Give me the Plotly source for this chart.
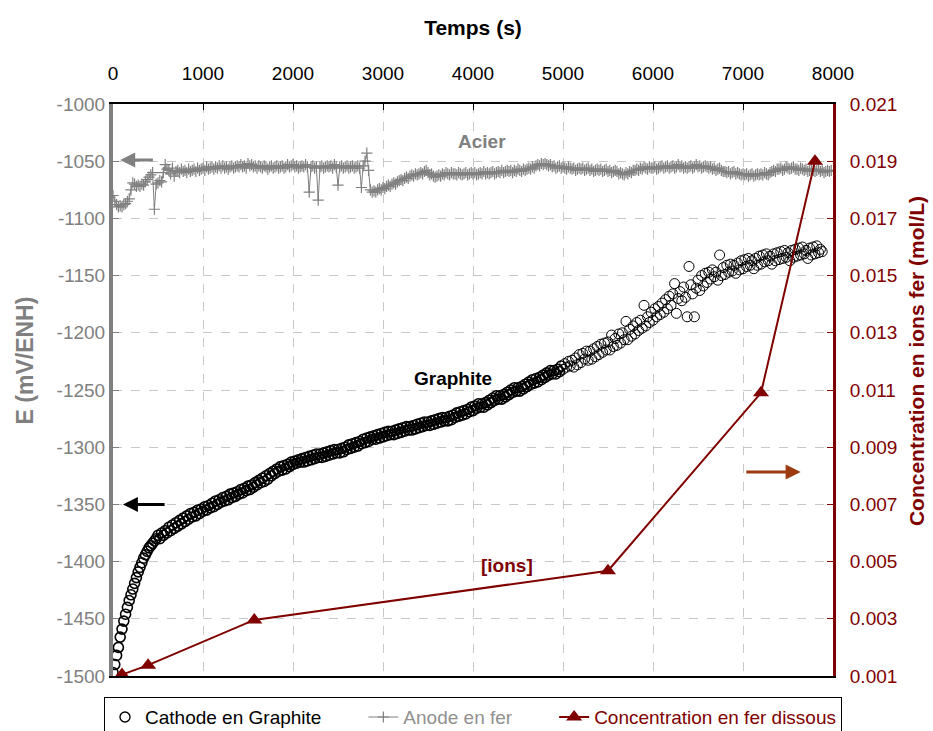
import plotly.graph_objects as go

# Cathode en graphite: potentiel (mV/ENH), une mesure toutes les 20 s
t_graphite = list(range(0, 7900, 20))
e_graphite = [
    -1497, -1490, -1482, -1475, -1466, -1459, -1452, -1446, -1440, -1434,
    -1429, -1424, -1419, -1414, -1409, -1405, -1401, -1397, -1394, -1391,
    -1388, -1386, -1384, -1382, -1380,
    -1377, -1380, -1375, -1377, -1373, -1375, -1370, -1373, -1368, -1371,
    -1366, -1369, -1364, -1367, -1362, -1365, -1360, -1363, -1358, -1361,
    -1357, -1360, -1355, -1358, -1354, -1356, -1352, -1355, -1351, -1353,
    -1349, -1352, -1347, -1350, -1346, -1348, -1344, -1347, -1343, -1346,
    -1341, -1344, -1340, -1343, -1339, -1341, -1337, -1340, -1336, -1338,
    -1334, -1337, -1333, -1335, -1331, -1333, -1329, -1331, -1327, -1330,
    -1325, -1328, -1323, -1325, -1321, -1323, -1319, -1321, -1317, -1320,
    -1316, -1319, -1315, -1317, -1313, -1315, -1312, -1314, -1311, -1313,
    -1310, -1313, -1309, -1312, -1308, -1311, -1307, -1310, -1306, -1309,
    -1306, -1309, -1305, -1308, -1304, -1307, -1303, -1306, -1302, -1305,
    -1302, -1305, -1301, -1304, -1300, -1302, -1298, -1301, -1297, -1300,
    -1296, -1299, -1295, -1297, -1293, -1296, -1292, -1295, -1291, -1293,
    -1290, -1293, -1289, -1292, -1288, -1291, -1287, -1290, -1286, -1289,
    -1286, -1289, -1285, -1288, -1284, -1287, -1283, -1286, -1282, -1285,
    -1282, -1285, -1281, -1284, -1280, -1283, -1279, -1282, -1278, -1281,
    -1278, -1281, -1277, -1280, -1276, -1279, -1275, -1278, -1274, -1277,
    -1274, -1277, -1273, -1276, -1272, -1274, -1270, -1273, -1269, -1272,
    -1268, -1271, -1267, -1269, -1265, -1268, -1264, -1266, -1262, -1265,
    -1262, -1265, -1261, -1263, -1259, -1261, -1257, -1259, -1255, -1258,
    -1255, -1258, -1254, -1256, -1252, -1254, -1250, -1252, -1248, -1251,
    -1248, -1251, -1247, -1249, -1245, -1247, -1243, -1245, -1241, -1244,
    -1240, -1243, -1239, -1241, -1237, -1239, -1235, -1237, -1233, -1236,
    -1233, -1236, -1232, -1234, -1229, -1232, -1227, -1230, -1225, -1229,
    -1224, -1230, -1222, -1228, -1219, -1226, -1218, -1223, -1216, -1224,
    -1216, -1223, -1214, -1221, -1212, -1219, -1210, -1217, -1209, -1215,
    -1208, -1215, -1202, -1212, -1205, -1211, -1201, -1209, -1200, -1206,
    -1190, -1206, -1197, -1203, -1194, -1201, -1191, -1198, -1189, -1196,
    -1176, -1194, -1186, -1191, -1182, -1189, -1179, -1186, -1177, -1184,
    -1174, -1182, -1171, -1179, -1168, -1176, -1166, -1157, -1183, -1170,
    -1164, -1172, -1160, -1169, -1186, -1142, -1158, -1166, -1186, -1161,
    -1154, -1163, -1150, -1159, -1148, -1156, -1147, -1153, -1145, -1151,
    -1147, -1154, -1132, -1150, -1143, -1149, -1141, -1147, -1140, -1146,
    -1141, -1148, -1139, -1145, -1137, -1144, -1136, -1142, -1135, -1141,
    -1137, -1144, -1135, -1141, -1133, -1140, -1132, -1138, -1131, -1137,
    -1133, -1140, -1131, -1137, -1130, -1136, -1129, -1135, -1128, -1134,
    -1130, -1137, -1128, -1134, -1127, -1133, -1126, -1132, -1125, -1131,
    -1128, -1135, -1126, -1132, -1125, -1131, -1124, -1130, -1127, -1129,
]

# Anode en fer (acier), une mesure toutes les 20 s
t_acier = list(range(0, 8000, 20))
e_acier = [
    -1080, -1085, -1088, -1090, -1089, -1090, -1088, -1087, -1085, -1083,
    -1075, -1069, -1070, -1072, -1071, -1072, -1070, -1071, -1068, -1066,
    -1064, -1062, -1060, -1092, -1070, -1069, -1067, -1068, -1060, -1053,
    -1057, -1058, -1061, -1056, -1063, -1059, -1058, -1060, -1057, -1059,
    -1058, -1060, -1057, -1059, -1058, -1057, -1059, -1056, -1058, -1057,
    -1056, -1058, -1055, -1057, -1056, -1055, -1057, -1055, -1056, -1054,
    -1056, -1054, -1056, -1055, -1057, -1055, -1054, -1056, -1055, -1054,
    -1055, -1053, -1055, -1054, -1056, -1052, -1054, -1053, -1055, -1054,
    -1056, -1054, -1055, -1056, -1054, -1055, -1057, -1055, -1054, -1056,
    -1055, -1054, -1056, -1055, -1054, -1056, -1055, -1053, -1055, -1054,
    -1053, -1055, -1054, -1056, -1055, -1054, -1055, -1053, -1055, -1077,
    -1055, -1054, -1056, -1055, -1084, -1055, -1054, -1056, -1055, -1054,
    -1055, -1054, -1056, -1053, -1055, -1071, -1055, -1054, -1056, -1055,
    -1054, -1056, -1055, -1054, -1056, -1055, -1054, -1056, -1073, -1054,
    -1050, -1043, -1058, -1075, -1077, -1076, -1077, -1075, -1074, -1075,
    -1073, -1074, -1072, -1071, -1072, -1070, -1069, -1070, -1068, -1067,
    -1066, -1067, -1065, -1064, -1065, -1063, -1062, -1063, -1061, -1062,
    -1061, -1060, -1061, -1059, -1058, -1060, -1062, -1061, -1063, -1064,
    -1063, -1062, -1063, -1061, -1062, -1060, -1061, -1062, -1060, -1061,
    -1061, -1062, -1060, -1061, -1062, -1061, -1060, -1062, -1061, -1060,
    -1061, -1060, -1062, -1061, -1060, -1061, -1059, -1061, -1060, -1061,
    -1060, -1059, -1061, -1060, -1059, -1060, -1058, -1060, -1059, -1058,
    -1059, -1058, -1060, -1058, -1059, -1057, -1058, -1059, -1057, -1058,
    -1057, -1056, -1057, -1055, -1056, -1054, -1053, -1054, -1052, -1053,
    -1052, -1053, -1054, -1053, -1055, -1054, -1056, -1055, -1054, -1056,
    -1055, -1056, -1057, -1055, -1056, -1057, -1056, -1058, -1057, -1056,
    -1057, -1056, -1058, -1057, -1056, -1058, -1057, -1059, -1058, -1057,
    -1058, -1057, -1059, -1058, -1057, -1059, -1058, -1060, -1059, -1058,
    -1059, -1061, -1060, -1061, -1062, -1060, -1061, -1059, -1060, -1058,
    -1058, -1057, -1058, -1056, -1057, -1055, -1056, -1057, -1055, -1056,
    -1056, -1055, -1057, -1056, -1055, -1054, -1056, -1055, -1054, -1056,
    -1055, -1054, -1056, -1055, -1053, -1055, -1054, -1056, -1055, -1056,
    -1055, -1054, -1056, -1055, -1053, -1055, -1054, -1056, -1055, -1054,
    -1055, -1056, -1055, -1057, -1056, -1058, -1057, -1056, -1058, -1059,
    -1059, -1060, -1059, -1061, -1060, -1059, -1061, -1060, -1061, -1062,
    -1061, -1062, -1061, -1063, -1062, -1061, -1063, -1062, -1061, -1062,
    -1061, -1062, -1060, -1061, -1062, -1060, -1059, -1058, -1059, -1057,
    -1057, -1056, -1058, -1057, -1055, -1056, -1057, -1056, -1055, -1057,
    -1057, -1058, -1056, -1057, -1058, -1057, -1059, -1058, -1057, -1058,
    -1059, -1058, -1057, -1059, -1058, -1060, -1059, -1058, -1059, -1058,
]

# Concentration en fer dissous (mol/L)
t_conc = [100, 390, 1570, 5500, 7200, 7800]
c_conc = [0.00105, 0.00138, 0.00296, 0.00468, 0.0109, 0.0190]

e_ticks = [-1500, -1450, -1400, -1350, -1300, -1250, -1200, -1150, -1100, -1050, -1000]
c_ticks = [0.001, 0.003, 0.005, 0.007, 0.009, 0.011, 0.013, 0.015, 0.017, 0.019, 0.021]
t_ticks = [0, 1000, 2000, 3000, 4000, 5000, 6000, 7000, 8000]

DARKRED = "#800000"
GREY = "#808080"
FONT = "Liberation Sans, Arial"
PAD = "&nbsp;" * 7

# cercles plus épais sur la partie dense de la courbe
graphite_line = [1.6 if t < 5000 else 1.0 for t in t_graphite]

fig = go.Figure()

fig.add_trace(
    go.Scatter(
        x=t_graphite,
        y=e_graphite,
        mode="markers",
        name="Cathode en Graphite" + PAD,
        marker=dict(
            symbol="circle-open",
            size=10,
            color="black",
            line=dict(width=graphite_line, color="black"),
        ),
    )
)

fig.add_trace(
    go.Scatter(
        x=t_acier,
        y=e_acier,
        mode="lines+markers",
        name="<span style='color:#909090'>Anode en fer</span>" + PAD,
        line=dict(color=GREY, width=1),
        marker=dict(
            symbol="cross-thin",
            size=8,
            color=GREY,
            line=dict(width=1.2, color=GREY),
        ),
    )
)

fig.add_trace(
    go.Scatter(
        x=t_conc,
        y=c_conc,
        yaxis="y2",
        mode="lines+markers",
        name="<span style='color:#800000'>Concentration en fer dissous</span>",
        line=dict(color=DARKRED, width=2),
        marker=dict(symbol="triangle-up", size=14, color=DARKRED),
    )
)

fig.add_annotation(
    x=4100, y=-1033, text="<b>Acier</b>", showarrow=False,
    font=dict(size=19, color=GREY),
)
fig.add_annotation(
    x=3780, y=-1240, text="<b>Graphite</b>", showarrow=False,
    font=dict(size=19, color="black"),
)
fig.add_annotation(
    x=4380, y=0.00488, yref="y2", text="<b>[ions]</b>", showarrow=False,
    font=dict(size=19, color=DARKRED),
)

# titres des axes verticaux
fig.add_annotation(
    x=-0.122, y=0.552, xref="paper", yref="paper", textangle=-90,
    xanchor="center", yanchor="middle",
    text="<b>E (mV/ENH)</b>", showarrow=False,
    font=dict(size=23, color=GREY),
)
fig.add_annotation(
    x=1.117, y=0.551, xref="paper", yref="paper", textangle=-90,
    xanchor="center", yanchor="middle",
    text="<b>Concentration en ions fer (mol/L)</b>", showarrow=False,
    font=dict(size=21, color=DARKRED),
)

# fleches indiquant l'axe de chaque courbe
fig.add_annotation(
    x=80, y=-1049, ax=460, ay=-1049, axref="x", ayref="y",
    showarrow=True, arrowhead=2, arrowsize=1, arrowwidth=3, arrowcolor=GREY,
    text="",
)
fig.add_annotation(
    x=110, y=-1350, ax=590, ay=-1350, axref="x", ayref="y",
    showarrow=True, arrowhead=2, arrowsize=1, arrowwidth=3, arrowcolor="black",
    text="",
)
fig.add_annotation(
    x=7640, y=0.00813, ax=7020, ay=0.00813, xref="x", yref="y2",
    axref="x", ayref="y2",
    showarrow=True, arrowhead=2, arrowsize=1, arrowwidth=3, arrowcolor="#9C3A10",
    text="",
)

fig.update_layout(
    width=933,
    height=731,
    margin=dict(l=113, r=100, t=104, b=55, autoexpand=False),
    plot_bgcolor="white",
    paper_bgcolor="white",
    font=dict(family=FONT, size=18, color="black"),
    legend=dict(
        orientation="h",
        x=-0.0125,
        xanchor="left",
        y=-0.037,
        yanchor="top",
        bordercolor="black",
        borderwidth=1,
        font=dict(size=19, color="black"),
    ),
    xaxis=dict(
        side="top",
        range=[0, 8000],
        tickvals=t_ticks,
        ticks="inside",
        ticklen=6,
        tickcolor="black",
        ticklabelstandoff=14,
        linecolor="black",
        linewidth=2,
        mirror=True,
        showgrid=True,
        gridcolor="#c8c8c8",
        griddash="dash",
        zeroline=False,
        automargin=False,
        tickfont=dict(size=19, color="black"),
        title=dict(text="<b>Temps (s)</b>", font=dict(size=21), standoff=22),
    ),
    yaxis=dict(
        range=[-1500, -1000],
        tickvals=e_ticks,
        ticktext=[str(v) for v in e_ticks],
        ticks="inside",
        ticklen=6,
        tickcolor=GREY,
        linecolor=GREY,
        linewidth=4,
        showgrid=True,
        gridcolor="#c8c8c8",
        griddash="dash",
        zeroline=False,
        automargin=False,
        tickfont=dict(size=19, color=GREY),
    ),
    yaxis2=dict(
        overlaying="y",
        side="right",
        range=[0.001, 0.021],
        tickvals=c_ticks,
        ticktext=[f"{v:.3f}" for v in c_ticks],
        ticks="inside",
        ticklen=6,
        tickcolor=DARKRED,
        ticklabelstandoff=10,
        linecolor=DARKRED,
        linewidth=3,
        showgrid=False,
        zeroline=False,
        automargin=False,
        tickfont=dict(size=19, color=DARKRED),
    ),
)

# la page html a une marge de 8 px par défaut: on la supprime
fig.write_html(
    "out.html",
    config={"displayModeBar": False},
    post_script="document.body.style.margin = '0';",
)
